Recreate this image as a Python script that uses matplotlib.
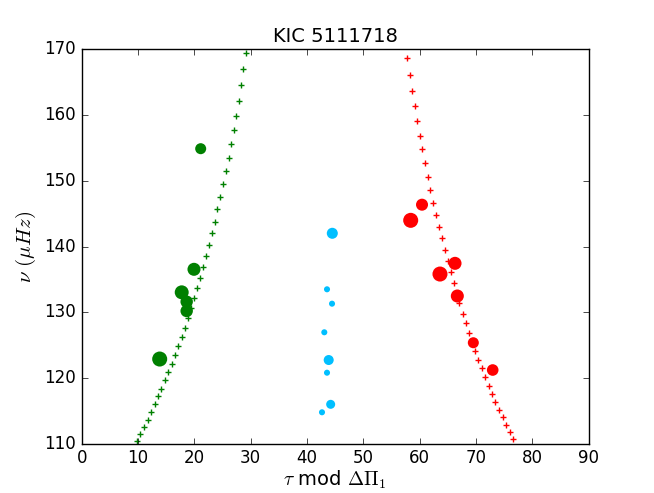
import matplotlib
matplotlib.use("Agg")
import matplotlib.pyplot as plt

plt.style.use('classic')

# Green model ridge (+)
green_x = [29.11, 28.69, 28.28, 27.87, 27.39, 26.98, 26.50, 26.09, 25.56, 25.08,
           24.60, 24.07, 23.61, 23.13, 22.60, 22.06, 21.53, 21.00, 20.46, 19.93,
           19.40, 18.81, 18.28, 17.75, 17.14, 16.56, 15.97, 15.37, 14.73, 14.13,
           13.54, 12.95, 12.30, 11.71, 11.00, 10.34, 9.76]
green_y = [169.39, 166.96, 164.57, 162.18, 159.90, 157.72, 155.55, 153.46, 151.44, 149.46,
           147.58, 145.66, 143.77, 142.00, 140.23, 138.55, 136.93, 135.25, 133.64, 132.21,
           130.70, 129.08, 127.64, 126.23, 124.86, 123.49, 122.17, 120.90, 119.64, 118.37,
           117.21, 115.99, 114.82, 113.65, 112.54, 111.47, 110.41]

# Red model ridge (+)
red_x = [57.81, 58.23, 58.64, 59.12, 59.58, 60.01, 60.47, 60.95, 61.43, 61.89,
         62.37, 62.90, 63.38, 63.92, 64.45, 64.98, 65.51, 66.05, 66.58, 67.04,
         67.64, 68.18, 68.71, 69.24, 69.88, 70.41, 71.07, 71.66, 72.26, 72.85,
         73.43, 74.04, 74.75, 75.33, 75.99, 76.63]
red_y = [168.63, 166.14, 163.70, 161.37, 159.09, 156.86, 154.79, 152.66, 150.62, 148.59,
         146.66, 144.84, 142.97, 141.25, 139.42, 137.79, 136.07, 134.45, 132.88, 131.36,
         129.78, 128.31, 126.84, 125.42, 124.10, 122.78, 121.51, 120.15, 118.82, 117.61,
         116.39, 115.17, 114.01, 112.89, 111.78, 110.67]

# Observed modes (circles), size ~ amplitude
obs_green_x = [21.12, 19.93, 17.75, 18.63, 18.63, 13.84]
obs_green_y = [154.88, 136.53, 133.03, 131.60, 130.19, 122.88]
obs_green_s = [63, 88, 101, 80, 80, 117]

obs_red_x = [60.42, 58.41, 66.28, 63.61, 66.69, 69.53, 72.97]
obs_red_y = [146.36, 143.98, 137.44, 135.81, 132.47, 125.36, 121.21]
obs_red_s = [75, 117, 88, 117, 88, 63, 70]

obs_cyan_x = [44.49, 43.55, 44.44, 43.07, 43.85, 43.55, 44.20, 42.66]
obs_cyan_y = [142.01, 133.49, 131.30, 126.95, 122.73, 120.80, 115.99, 114.78]
obs_cyan_s = [63, 19, 19, 19, 52, 19, 42, 19]

fig = plt.figure(figsize=(6.54, 4.93), dpi=100)
ax = fig.add_subplot(111)

ax.plot(green_x, green_y, '+', color='green', markersize=4.5, markeredgewidth=1.0)
ax.plot(red_x, red_y, '+', color='red', markersize=4.5, markeredgewidth=1.0)

ax.scatter(obs_green_x, obs_green_y, s=obs_green_s, color='green', edgecolors='none', zorder=3)
ax.scatter(obs_red_x, obs_red_y, s=obs_red_s, color='red', edgecolors='none', zorder=3)
ax.scatter(obs_cyan_x, obs_cyan_y, s=obs_cyan_s, color='deepskyblue', edgecolors='none', zorder=3)

ax.set_xlim(0, 90)
ax.set_ylim(110, 170)
ax.set_title('KIC 5111718', fontsize=14)
ax.set_xlabel(r'$\tau$ mod $\Delta\Pi_1$', fontsize=14, labelpad=1)
ax.set_ylabel(r'$\nu\ (\mu Hz)$', fontsize=15)

fig.savefig('out.png', dpi=100)
